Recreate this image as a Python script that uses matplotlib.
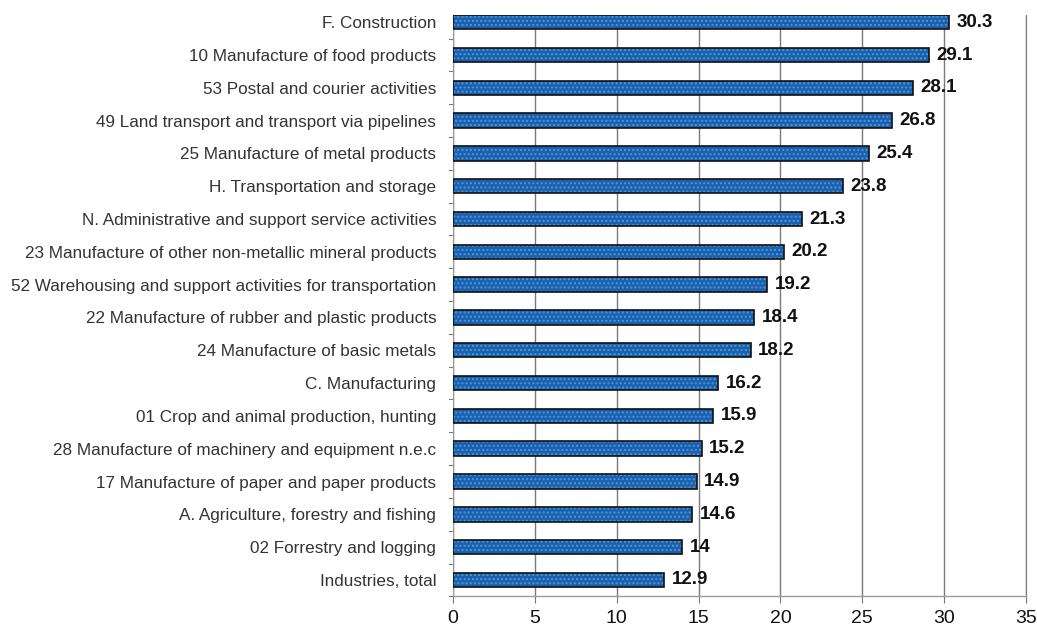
import matplotlib
matplotlib.use("Agg")
import matplotlib.pyplot as plt
import numpy as np

categories = [
    "F. Construction",
    "10 Manufacture of food products",
    "53 Postal and courier activities",
    "49 Land transport and transport via pipelines",
    "25 Manufacture of metal products",
    "H. Transportation and storage",
    "N. Administrative and support service activities",
    "23 Manufacture of other non-metallic mineral products",
    "52 Warehousing and support activities for transportation",
    "22 Manufacture of rubber and plastic products",
    "24 Manufacture of basic metals",
    "C. Manufacturing",
    "01 Crop and animal production, hunting",
    "28 Manufacture of machinery and equipment n.e.c",
    "17 Manufacture of paper and paper products",
    "A. Agriculture, forestry and fishing",
    "02 Forrestry and logging",
    "Industries, total",
]
values = [30.3, 29.1, 28.1, 26.8, 25.4, 23.8, 21.3, 20.2, 19.2, 18.4, 18.2,
          16.2, 15.9, 15.2, 14.9, 14.6, 14, 12.9]
value_labels = ["30.3", "29.1", "28.1", "26.8", "25.4", "23.8", "21.3", "20.2",
                "19.2", "18.4", "18.2", "16.2", "15.9", "15.2", "14.9", "14.6",
                "14", "12.9"]
x_ticks = [0, 5, 10, 15, 20, 25, 30, 35]

plt.rcParams["font.family"] = ["Liberation Sans", "DejaVu Sans"]
plt.rcParams["hatch.linewidth"] = 1.0

fig = plt.figure(figsize=(10.37, 6.35), dpi=100)
ax = fig.add_axes([453 / 1037, 1 - 596 / 635, (1026 - 453) / 1037, (596 - 15) / 635])

n = len(categories)
ypos = np.arange(n)[::-1]  # first category on top

# filled bars with a fine dotted texture, then black outlines on top
ax.barh(ypos, values, height=0.44, color="#1b5fae", edgecolor="#4a9ad8",
        hatch="....", linewidth=0, zorder=3)
ax.barh(ypos, values, height=0.44, fill=False, edgecolor="#111111",
        linewidth=1.2, zorder=4)

for y, v, lab in zip(ypos, values, value_labels):
    ax.text(v + 0.45, y, lab, va="center", ha="left", fontsize=13.5,
            fontweight="bold", color="#111111", zorder=5)

ax.set_xlim(0, 35)
ax.set_ylim(-0.49, n - 1 + 0.22)
ax.set_xticks(x_ticks)
ax.set_xticklabels([str(t) for t in x_ticks], fontsize=14, color="#111111")
ax.tick_params(axis="x", length=5, width=0.8, color="#777777", pad=5)

# category labels; small ticks at category boundaries
ax.set_yticks(ypos)
ax.set_yticklabels(categories, fontsize=12.3, color="#333333")
ax.tick_params(axis="y", length=0, pad=12)
for b in np.arange(-0.5, n - 0.5, 1.0):
    ax.plot([-0.22, 0], [b, b], color="#777777", lw=0.8, clip_on=False, zorder=2)

ax.xaxis.grid(True, color="#7a7a7a", linewidth=1.0, zorder=0)
ax.set_axisbelow(True)
ax.spines["top"].set_visible(False)
ax.spines["right"].set_color("#7a7a7a")
ax.spines["left"].set_color("#9a9a9a")
ax.spines["left"].set_linewidth(0.8)
ax.spines["bottom"].set_color("#9a9a9a")
ax.spines["bottom"].set_linewidth(1.0)

fig.savefig("out.png", dpi=100)
